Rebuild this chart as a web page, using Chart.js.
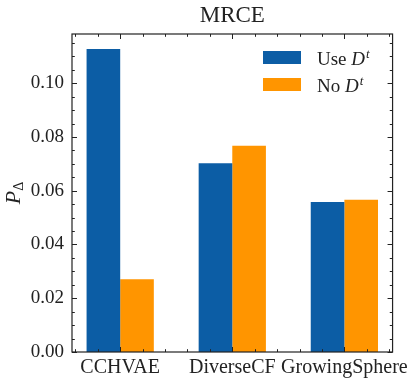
<!DOCTYPE html>
<html>
<head>
<meta charset="utf-8">
<script src="https://cdn.jsdelivr.net/npm/chart.js@4"></script>
<style>
  html, body { margin: 0; padding: 0; background: #fff; }
</style>
</head>
<body>
<canvas id="mrceChart" width="415" height="383"></canvas>
<script>
const categories = ['CCHVAE', 'DiverseCF', 'GrowingSphere'];
const useDt = [0.1127, 0.0702, 0.0558];
const noDt = [0.0271, 0.0767, 0.0566];
const seriesLabels = ['Use D^t', 'No D^t'];
const yTicks = [0.00, 0.02, 0.04, 0.06, 0.08, 0.10];

const serif = "'Liberation Serif', 'Times New Roman', serif";
const ink = '#222';

// frame, inward ticks, title, legend and y label (math text) drawn on top
const decor = {
    id: 'decor',
    afterDraw(chart) {
        const ctx = chart.ctx;
        const a = chart.chartArea;
        const xs = chart.scales.x;
        const ys = chart.scales.y;
        ctx.save();
        ctx.strokeStyle = ink;
        ctx.lineWidth = 1;

        // y ticks, both sides
        for (let k = 0; k * 0.005 <= ys.max + 1e-9; k++) {
            const py = Math.round(ys.getPixelForValue(k * 0.005)) + 0.5;
            const len = k % 4 === 0 ? 5 : 2.8;
            ctx.beginPath();
            ctx.moveTo(a.left, py); ctx.lineTo(a.left + len, py);
            ctx.moveTo(a.right, py); ctx.lineTo(a.right - len, py);
            ctx.stroke();
        }
        // x ticks, top and bottom
        for (let k = -2; k <= 12; k++) {
            const v = k * 0.2;
            if (v < xs.min || v > xs.max) continue;
            const px = Math.round(xs.getPixelForValue(v)) + 0.5;
            const len = k % 5 === 0 ? 5 : 2.8;
            ctx.beginPath();
            ctx.moveTo(px, a.bottom); ctx.lineTo(px, a.bottom - len);
            ctx.moveTo(px, a.top); ctx.lineTo(px, a.top + len);
            ctx.stroke();
        }
        ctx.lineWidth = 1.2;
        ctx.strokeRect(a.left, a.top, a.right - a.left, a.bottom - a.top);

        // title
        ctx.fillStyle = ink;
        ctx.font = '23px ' + serif;
        ctx.textAlign = 'center';
        ctx.textBaseline = 'alphabetic';
        ctx.fillText('MRCE', (a.left + a.right) / 2, 22);

        // legend
        ctx.textAlign = 'left';
        chart.data.datasets.forEach((ds, i) => {
            const top = 51 + i * 27;
            ctx.fillStyle = ds.backgroundColor;
            ctx.fillRect(263, top, 38, 13);
            ctx.fillStyle = ink;
            const word = ds.label.split(' ')[0] + ' ';
            let x = 317;
            const base = top + 14;
            ctx.font = '19px ' + serif;
            ctx.fillText(word, x, base);
            x += ctx.measureText(word).width;
            ctx.font = 'italic 19px ' + serif;
            ctx.fillText('D', x, base);
            x += ctx.measureText('D').width + 1;
            ctx.font = 'italic 13px ' + serif;
            ctx.fillText('t', x, base - 7);
        });

        // y axis label P_Delta
        ctx.translate(20, (a.top + a.bottom) / 2);
        ctx.rotate(-Math.PI / 2);
        ctx.font = 'italic 22px ' + serif;
        const wP = ctx.measureText('P').width;
        ctx.font = '14px ' + serif;
        const wD = ctx.measureText('\u0394').width;
        const x0 = -(wP + wD) / 2;
        ctx.font = 'italic 22px ' + serif;
        ctx.fillText('P', x0, 0);
        ctx.font = '14px ' + serif;
        ctx.fillText('\u0394', x0 + wP, 3);
        ctx.restore();
    }
};

new Chart(document.getElementById('mrceChart').getContext('2d'), {
    type: 'bar',
    data: {
        datasets: [{
            label: seriesLabels[0],
            data: categories.map((c, i) => ({ x: i, y: useDt[i] })),
            backgroundColor: '#0C5DA5',
            borderWidth: 0,
        }, {
            label: seriesLabels[1],
            data: categories.map((c, i) => ({ x: i, y: noDt[i] })),
            backgroundColor: '#FF9500',
            borderWidth: 0,
        }]
    },
    options: {
        responsive: false,
        animation: false,
        layout: {
            padding: { top: 34, right: 22, left: 0, bottom: 0 }
        },
        datasets: {
            bar: { categoryPercentage: 0.6, barPercentage: 1.0 }
        },
        scales: {
            x: {
                type: 'linear',
                min: -0.43,
                max: 2.43,
                offset: false,
                grid: { display: false, drawTicks: false, offset: false },
                border: { display: false },
                afterBuildTicks: (scale) => {
                    scale.ticks = categories.map((c, i) => ({ value: i }));
                },
                afterFit: (scale) => { scale.height = 31; },
                ticks: {
                    padding: 4,
                    color: ink,
                    autoSkip: false,
                    font: { family: serif, size: 20 },
                    maxRotation: 0,
                    callback: (v) => categories[v]
                }
            },
            y: {
                min: 0,
                max: 0.1183,
                grid: { display: false, drawTicks: false },
                border: { display: false },
                afterBuildTicks: (scale) => {
                    scale.ticks = yTicks.map(v => ({ value: v }));
                },
                afterFit: (scale) => { scale.width = 72; },
                ticks: {
                    padding: 8,
                    color: ink,
                    font: { family: serif, size: 19 },
                    callback: (v) => v.toFixed(2)
                }
            }
        },
        plugins: {
            legend: { display: false },
            title: { display: false },
            tooltip: { enabled: false }
        }
    },
    plugins: [decor]
});
</script>
</body>
</html>
